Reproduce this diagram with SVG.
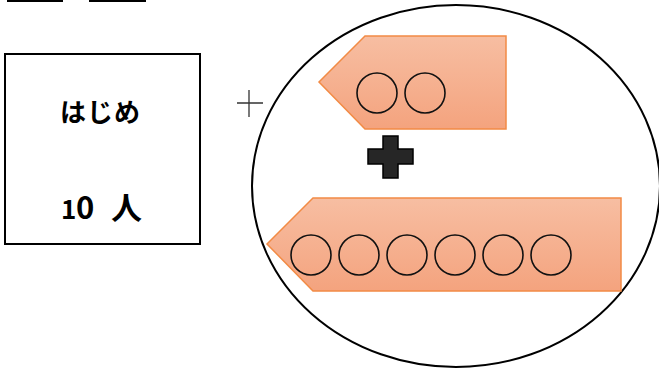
<svg xmlns="http://www.w3.org/2000/svg" width="659" height="369" viewBox="0 0 659 369">
<style>
.lbl{font-family:"Noto Sans CJK JP","Noto Sans",sans-serif;font-weight:bold;font-size:26px;fill:#000}
.arrow{fill:url(#og);stroke:#F28B45;stroke-width:1.5}
.dot{fill:none;stroke:#111;stroke-width:1.6}
</style>
<defs>
<linearGradient id="og" x1="0" y1="0" x2="0" y2="1">
<stop offset="0" stop-color="#F7BEA2"/>
<stop offset="1" stop-color="#F4A37E"/>
</linearGradient>
</defs>
<rect x="7" y="0" width="56" height="2" fill="#000"/>
<rect x="89" y="0" width="57" height="2" fill="#000"/>
<g id="start">
<rect x="5" y="54" width="195" height="190" fill="#fff" stroke="#000" stroke-width="2"/>
<text class="lbl" x="60" y="122" letter-spacing="1">はじめ</text>
<text class="lbl" y="219"><tspan x="61">1</tspan><tspan x="76" style="font-size:31px">0</tspan><tspan x="101 111" style="font-size:31px"> 人</tspan></text>
</g>
<g id="plus-small">
<path d="M237 103H263M249 90V117" stroke="#333" stroke-width="1.3" fill="none"/>
</g>
<g id="group">
<ellipse cx="456" cy="186" rx="204" ry="181" fill="none" stroke="#000" stroke-width="2"/>
</g>
<g id="arrow-small">
<polygon class="arrow" points="365,36 506,36 506,129 365,129 319,82"/>
<circle class="dot" cx="377" cy="93" r="20"/>
<circle class="dot" cx="425" cy="93" r="20"/>
</g>
<g id="plus-big">
<polygon points="383,136 398,136 398,149 413,149 413,164 398,164 398,178 383,178 383,164 368,164 368,149 383,149" fill="#262626" stroke="#000" stroke-width="1.5"/>
</g>
<g id="arrow-big">
<polygon class="arrow" points="313,198 621,198 621,291 313,291 267,244"/>
<circle class="dot" cx="311" cy="255" r="20"/>
<circle class="dot" cx="359" cy="255" r="20"/>
<circle class="dot" cx="407" cy="255" r="20"/>
<circle class="dot" cx="455" cy="255" r="20"/>
<circle class="dot" cx="503" cy="255" r="20"/>
<circle class="dot" cx="551" cy="255" r="20"/>
</g>
</svg>
